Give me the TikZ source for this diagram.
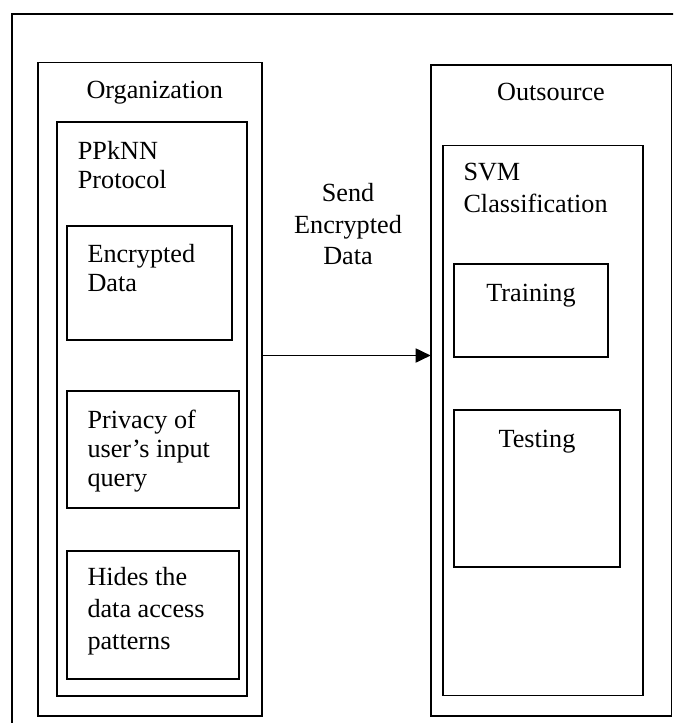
\documentclass[tikz,border=0pt]{standalone}
\usepackage{fontspec}
\setmainfont{Liberation Serif}
\usetikzlibrary{arrows.meta}
\begin{document}
\begin{tikzpicture}[x=1pt,y=-1pt,
  box/.style={draw=black, line width=1.8pt, rectangle, inner sep=0pt, outer sep=0pt, anchor=north west},
  txt/.style={anchor=base west, align=left, inner sep=0pt, font=\fontsize{26.2}{#1}\selectfont},
  txt/.default=30,
  ctxt/.style={anchor=base, align=center, inner sep=0pt, font=\fontsize{26.2}{#1}\selectfont},
  ctxt/.default=31.6]
\useasboundingbox (0,0) rectangle (673,723);
\clip (0,0) rectangle (673,723);
% outer frame (extends past the right and bottom edges)
\node[box, minimum width=700pt, minimum height=760pt] (frame) at (11.7,14.3) {};
% left column
\node[box, minimum width=224.3pt, minimum height=653.5pt] (org) at (37.7,62.5) {};
\node[box, minimum width=189.7pt, minimum height=574pt] (ppknn) at (57.3,122) {};
\node[box, minimum width=165.6pt, minimum height=114.3pt] (enc) at (66.7,225.7) {};
\node[box, minimum width=172.3pt, minimum height=117pt] (priv) at (66.7,390.7) {};
\node[box, minimum width=172.3pt, minimum height=128.3pt] (hides) at (66.7,551) {};
% right column
\node[box, minimum width=240.8pt, minimum height=651pt] (out) at (430.7,65) {};
\node[box, minimum width=200.6pt, minimum height=550pt] (svm) at (442.7,145.5) {};
\node[box, minimum width=154.6pt, minimum height=92.4pt] (train) at (453.7,264.3) {};
\node[box, minimum width=166.6pt, minimum height=157pt] (test) at (453.7,410) {};
% texts (multi-line nodes: anchor at the baseline of the last line)
\node[ctxt] (orgT) at (154.7,98.3) {Organization};
\node[ctxt] (outT) at (551,100.7) {Outsource};
\node[txt=29.4] (ppknnT) at (77.7,188.4) {PPkNN\\Protocol};
\node[txt=29.4] (encT) at (87.3,291.7) {Encrypted\\Data};
\node[txt=29.4] (privT) at (87.3,486.8) {Privacy of\\user’s input\\query};
\node[txt=31.8] (hidesT) at (87.3,649.3) {Hides the\\data access\\patterns};
\node[txt=32.7] (svmT) at (463.3,212.7) {SVM\\Classification};
\node[ctxt] (sendT) at (348,264.9) {Send\\Encrypted\\Data};
\node[ctxt] (trainT) at (531,301.7) {Training};
\node[ctxt] (testT) at (537,447) {Testing};
% arrow
\coordinate (aS) at (org.east |- 0,355.5);
\coordinate (aE) at (out.west |- 0,355.5);
\draw[line width=1.8pt, -{Triangle[length=15pt,width=14pt]}] (aS) -- (aE);
\end{tikzpicture}
\end{document}
